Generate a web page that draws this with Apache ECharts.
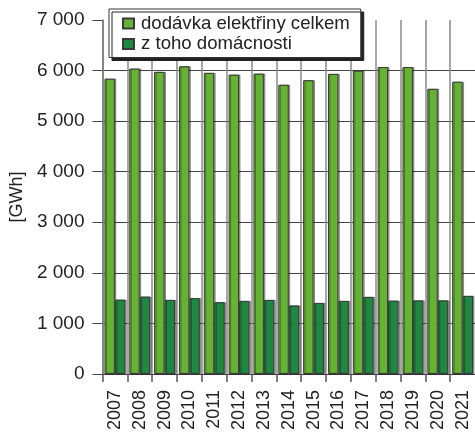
<!DOCTYPE html>
<html>
<head>
<meta charset="utf-8">
<script src="https://cdn.jsdelivr.net/npm/echarts@6/dist/echarts.min.js"></script>
<style>
  html, body { margin: 0; padding: 0; background: #fff; }
  #chart { width: 475px; height: 433px; }
</style>
</head>
<body>
<div id="chart"></div>
<script>
// roky
var years = ["2007", "2008", "2009", "2010", "2011", "2012", "2013", "2014",
  "2015", "2016", "2017", "2018", "2019", "2020", "2021"];
// dodávka elektřiny celkem [GWh]
var celkem = [5840, 6040, 5975, 6085, 5955, 5920, 5940, 5720,
  5810, 5935, 6000, 6070, 6070, 5640, 5780];
// z toho domácnosti [GWh]
var domacnosti = [1470, 1530, 1465, 1500, 1420, 1445, 1465, 1355,
  1405, 1445, 1525, 1450, 1455, 1455, 1545];
var yTicks = [0, 1000, 2000, 3000, 4000, 5000, 6000, 7000];

var font = "Liberation Sans, Arial, sans-serif";
var myChart = echarts.init(document.getElementById("chart"));

var barStyle = function (color) {
  return {
    color: color,
    borderColor: "#3a3a3a",
    borderWidth: 1,
    shadowColor: "rgba(0,0,0,0.35)",
    shadowOffsetX: 1.5,
    shadowBlur: 0
  };
};

myChart.setOption({
  animation: false,
  textStyle: { fontFamily: font },
  grid: { left: 101, top: 20, bottom: 56, width: 375 },
  legend: {
    orient: "vertical",
    left: 109,
    top: 9,
    padding: [5, 11, 4, 13],
    itemWidth: 11,
    itemHeight: 10,
    itemGap: 1.5,
    backgroundColor: "#fff",
    borderColor: "#333",
    borderWidth: 1,
    shadowColor: "#222",
    shadowOffsetX: 3,
    shadowOffsetY: 3,
    shadowBlur: 0,
    textStyle: { fontSize: 18.6, color: "#222", fontFamily: font, padding: [0, 0, 0, 2] },
    data: [
      { name: "dodávka elektřiny celkem", icon: "rect" },
      { name: "z toho domácnosti", icon: "rect" }
    ]
  },
  xAxis: {
    type: "category",
    data: years,
    boundaryGap: true,
    axisLine: { lineStyle: { color: "#333", width: 1 } },
    axisTick: { show: true, length: 8, interval: 0, lineStyle: { color: "#555", width: 1.5 } },
    axisLabel: { rotate: 90, margin: 16, fontSize: 18, color: "#222", interval: 0 },
    splitLine: { show: true, interval: 0, lineStyle: { color: "#8a8a8a", width: 1.5 } }
  },
  yAxis: {
    type: "value",
    min: yTicks[0],
    max: yTicks[yTicks.length - 1],
    interval: 1000,
    name: "[GWh]",
    nameLocation: "middle",
    nameGap: 76,
    nameTextStyle: { fontSize: 18, color: "#222" },
    axisLine: { show: true, lineStyle: { color: "#7a7a7a", width: 1.5 } },
    axisTick: { show: true, length: 10, lineStyle: { color: "#444" } },
    axisLabel: {
      margin: 18,
      fontSize: 19,
      color: "#222",
      formatter: function (v) { return String(v).replace(/\B(?=(\d{3})+(?!\d))/g, " "); }
    },
    splitLine: {
      show: true,
      lineStyle: { color: ["#444", "#444", "#444", "#444", "#444", "#444", "#444", "rgba(0,0,0,0)"], width: 1 }
    }
  },
  series: [
    {
      name: "dodávka elektřiny celkem",
      type: "bar",
      data: celkem,
      barGap: "0%",
      barCategoryGap: "16%",
      itemStyle: barStyle("#66b234")
    },
    {
      name: "z toho domácnosti",
      type: "bar",
      data: domacnosti,
      itemStyle: barStyle("#1f8740")
    }
  ]
});
</script>
</body>
</html>
